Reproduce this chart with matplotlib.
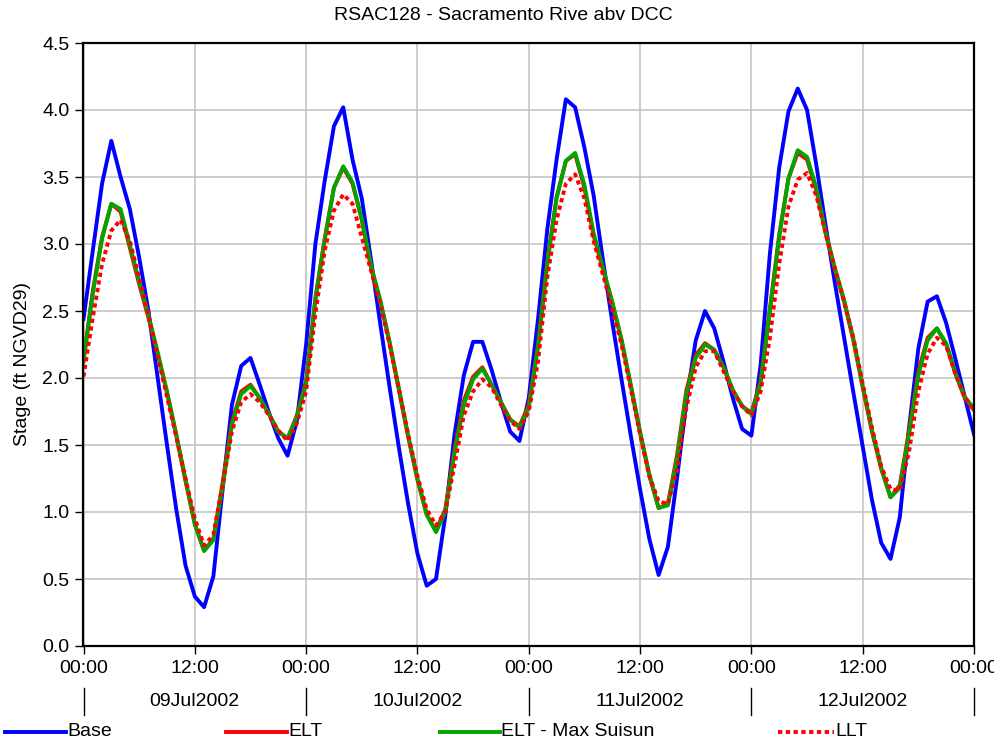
import pandas as pd
import matplotlib
matplotlib.use("Agg")
import matplotlib.pyplot as plt
import matplotlib.dates as mdates
from matplotlib.lines import Line2D

plt.rcParams['font.family'] = ['Liberation Sans', 'DejaVu Sans']

# hourly stage, 09Jul2002 00:00 -> 13Jul2002 00:00 (ft NGVD29)
horas = pd.date_range('2002-07-09 00:00', periods=97, freq='h')

base = [2.44, 2.95, 3.45, 3.77, 3.50, 3.26, 2.90, 2.50, 2.00, 1.50, 1.02, 0.60, 0.37, 0.29, 0.52, 1.17, 1.80, 2.09, 2.15, 1.95, 1.74, 1.55, 1.42, 1.68,
        2.25, 3.00, 3.47, 3.88, 4.02, 3.63, 3.34, 2.88, 2.40, 1.93, 1.48, 1.06, 0.69, 0.45, 0.50, 0.97, 1.58, 2.02, 2.27, 2.27, 2.06, 1.82, 1.60, 1.53,
        1.85, 2.44, 3.11, 3.63, 4.08, 4.02, 3.72, 3.36, 2.88, 2.42, 1.99, 1.57, 1.17, 0.80, 0.53, 0.74, 1.26, 1.83, 2.28, 2.50, 2.37, 2.12, 1.85, 1.62,
        1.57, 2.10, 2.93, 3.57, 3.99, 4.16, 4.00, 3.59, 3.14, 2.71, 2.30, 1.89, 1.49, 1.09, 0.77, 0.65, 0.96, 1.63, 2.22, 2.57, 2.61, 2.41, 2.14, 1.86, 1.58]

elt = [2.13, 2.65, 3.05, 3.30, 3.24, 2.97, 2.70, 2.45, 2.18, 1.89, 1.57, 1.23, 0.91, 0.71, 0.80, 1.22, 1.67, 1.90, 1.95, 1.85, 1.73, 1.60, 1.55, 1.72,
       1.98, 2.60, 3.04, 3.42, 3.57, 3.45, 3.18, 2.82, 2.57, 2.26, 1.91, 1.56, 1.24, 0.98, 0.86, 1.02, 1.47, 1.83, 2.01, 2.08, 1.95, 1.82, 1.69, 1.64,
       1.80, 2.25, 2.87, 3.35, 3.62, 3.67, 3.42, 3.06, 2.81, 2.56, 2.28, 1.94, 1.59, 1.27, 1.03, 1.06, 1.43, 1.91, 2.17, 2.26, 2.21, 2.08, 1.91, 1.79,
       1.74, 1.98, 2.52, 3.07, 3.49, 3.68, 3.63, 3.40, 3.08, 2.81, 2.57, 2.28, 1.93, 1.60, 1.32, 1.11, 1.20, 1.61, 2.05, 2.30, 2.37, 2.25, 2.03, 1.85, 1.76]

elt_suisun = [2.12, 2.63, 3.04, 3.30, 3.26, 2.99, 2.72, 2.47, 2.19, 1.90, 1.58, 1.24, 0.91, 0.71, 0.79, 1.19, 1.65, 1.88, 1.94, 1.85, 1.73, 1.60, 1.55, 1.71,
              1.96, 2.58, 3.03, 3.42, 3.58, 3.46, 3.19, 2.84, 2.58, 2.27, 1.92, 1.57, 1.25, 0.98, 0.85, 1.00, 1.44, 1.80, 1.99, 2.07, 1.95, 1.82, 1.69, 1.63,
              1.78, 2.23, 2.85, 3.34, 3.62, 3.68, 3.44, 3.08, 2.82, 2.57, 2.29, 1.95, 1.60, 1.28, 1.03, 1.05, 1.40, 1.88, 2.15, 2.25, 2.21, 2.08, 1.91, 1.79,
              1.73, 1.96, 2.50, 3.05, 3.49, 3.70, 3.65, 3.42, 3.09, 2.82, 2.58, 2.29, 1.94, 1.61, 1.33, 1.11, 1.18, 1.58, 2.02, 2.28, 2.37, 2.26, 2.04, 1.86, 1.77]

llt = [2.01, 2.45, 2.85, 3.10, 3.18, 3.02, 2.75, 2.47, 2.16, 1.86, 1.56, 1.25, 0.95, 0.75, 0.83, 1.20, 1.60, 1.82, 1.88, 1.82, 1.72, 1.61, 1.53, 1.66,
       1.90, 2.48, 2.95, 3.25, 3.37, 3.30, 3.05, 2.80, 2.55, 2.25, 1.92, 1.58, 1.27, 1.02, 0.90, 1.00, 1.35, 1.72, 1.90, 1.99, 1.93, 1.80, 1.68, 1.62,
       1.75, 2.12, 2.75, 3.18, 3.45, 3.52, 3.34, 3.02, 2.77, 2.52, 2.25, 1.92, 1.58, 1.27, 1.08, 1.06, 1.32, 1.78, 2.08, 2.20, 2.20, 2.05, 1.90, 1.79,
       1.72, 1.90, 2.30, 2.85, 3.28, 3.48, 3.53, 3.36, 3.08, 2.82, 2.57, 2.30, 1.96, 1.63, 1.34, 1.17, 1.16, 1.45, 1.90, 2.18, 2.30, 2.24, 2.03, 1.86, 1.76]

nomes = ['Base', 'ELT', 'ELT - Max Suisun', 'LLT']
titulo = 'RSAC128 - Sacramento Rive abv DCC'
y_ticks = [0.0, 0.5, 1.0, 1.5, 2.0, 2.5, 3.0, 3.5, 4.0, 4.5]

cores = ['#0000ff', '#ff0000', '#00a600', '#ff0000']
estilos = ['-', '-', '-', (0, (1.1, 0.9))]
LW = 2.8

W, H = 995, 746
fig = plt.figure(figsize=(W / 100, H / 100), dpi=100)
ax = fig.add_axes([83.5 / W, 1 - 646 / H, 890.5 / W, 603 / H])

for serie, cor, ls in zip([base, elt, elt_suisun, llt], cores, estilos):
    ax.plot(horas, serie, color=cor, linestyle=ls, lw=LW,
            solid_joinstyle='round', dash_joinstyle='round')

ax.set_xlim(horas[0], horas[-1])
ax.set_ylim(0, 4.5)
ax.set_yticks(y_ticks)
ax.yaxis.set_major_formatter(plt.FormatStrFormatter('%.1f'))
ax.xaxis.set_major_locator(mdates.HourLocator(byhour=[0, 12]))
ax.xaxis.set_major_formatter(mdates.DateFormatter('%H:%M'))
ax.tick_params(labelsize=14, length=6, width=1, direction='out', pad=4)
ax.grid(True, color='#c0c0c0', lw=1.1)
ax.set_axisbelow(True)
for sp in ax.spines.values():
    sp.set_linewidth(1.6)

# date row under the hour labels
trans = ax.get_xaxis_transform()
dias = pd.date_range('2002-07-09', periods=5, freq='D')
for d in dias:
    ax.add_line(Line2D([d, d], [-0.0697, -0.1144], transform=trans, color='k', lw=1, clip_on=False))
for d in dias[:-1]:
    meio = d + pd.Timedelta(hours=12)
    ax.text(meio, -0.092, d.strftime('%d%b%Y'), transform=trans, ha='center', va='center', fontsize=14)

fig.text(503 / W, 1 - 15 / H, titulo, ha='center', va='center', fontsize=14)
fig.text(22.7 / W, 1 - 364 / H, 'Stage (ft NGVD29)', rotation=90, ha='center', va='center', fontsize=14)

# legend row at the bottom
y_leg = 1 - 732 / H
pos_leg = [(5, 66), (226, 287), (440, 500), (778, 834)]
for (x0, x1), nome, cor, ls in zip(pos_leg, nomes, cores, estilos):
    fig.add_artist(Line2D([x0 / W, x1 / W], [y_leg, y_leg], transform=fig.transFigure,
                          color=cor, linestyle=ls, lw=LW))
    fig.text((x1 + 1) / W, y_leg, nome, ha='left', va='center', fontsize=14)

fig.savefig('out.png', dpi=100)
